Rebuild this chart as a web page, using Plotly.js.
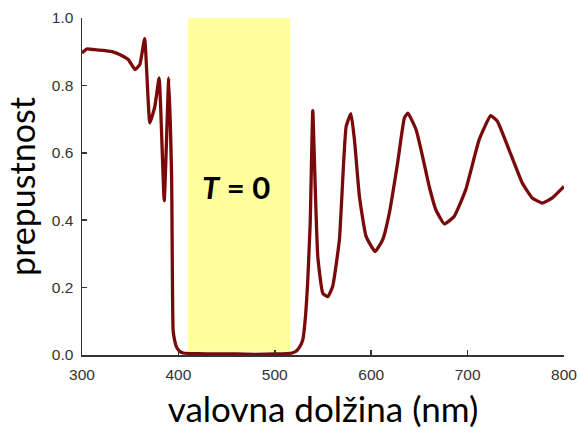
<!DOCTYPE html>
<html>
<head>
<meta charset="utf-8">
<script src="https://cdn.plot.ly/plotly-3.0.1.min.js"></script>
<style>html,body{margin:0;padding:0;background:#fff;}#chart{width:578px;height:429px;}</style>
</head>
<body>
<div id="chart"></div>
<script>
// wavelength (nm)
const wavelength = [300, 305, 313, 322, 331, 339, 348, 355, 360, 365, 370.4, 375.6, 380, 385.3, 390, 393, 394.5, 396, 398, 401, 405, 420, 440, 460, 480, 500, 512, 518, 522, 526, 529, 532, 534, 536.7, 539.4, 542, 544.6, 549.8, 555, 560, 567, 574, 579, 582.6, 587.8, 594.7, 604, 611.9, 618.8, 627.4, 634.4, 638, 646.5, 653.3, 660.2, 667.1, 675.8, 686, 698, 712, 724, 731, 743, 756.8, 767, 777.5, 787.9, 800];
// transmittance
const transmittance = [0.896, 0.908, 0.906, 0.904, 0.900, 0.892, 0.877, 0.847, 0.862, 0.939, 0.689, 0.738, 0.822, 0.458, 0.822, 0.52, 0.074, 0.045, 0.024, 0.012, 0.006, 0.004, 0.003, 0.003, 0.002, 0.003, 0.004, 0.006, 0.011, 0.025, 0.045, 0.12, 0.21, 0.39, 0.725, 0.49, 0.292, 0.183, 0.173, 0.203, 0.342, 0.678, 0.716, 0.639, 0.470, 0.352, 0.307, 0.342, 0.421, 0.570, 0.703, 0.718, 0.669, 0.589, 0.50, 0.431, 0.389, 0.411, 0.490, 0.639, 0.710, 0.693, 0.609, 0.510, 0.466, 0.451, 0.466, 0.500];
// zero-transmission band
const bandX = [410, 516];
const bandY = [0.01, 1.007];
const xTicks = [300, 400, 500, 600, 700, 800];
const yTicks = [0, 0.2, 0.4, 0.6, 0.8, 1.0];
const yTickText = ['0.0', '0.2', '0.4', '0.6', '0.8', '1.0'];

const trace = {
  x: wavelength, y: transmittance, type: 'scatter', mode: 'lines',
  line: {color: '#7a0a0a', width: 3.3, shape: 'spline', smoothing: 0.4}, hoverinfo: 'skip'
};

const layout = {
  width: 578, height: 429,
  margin: {l: 82, r: 14, t: 18, b: 74},
  paper_bgcolor: '#fff', plot_bgcolor: '#fff',
  showlegend: false,
  xaxis: {
    range: [300, 800], tickvals: xTicks, ticks: 'inside', ticklen: 5, tickwidth: 1.5, tickcolor: '#333',
    showline: true, linecolor: '#333', linewidth: 1.5, showgrid: false, zeroline: false,
    tickfont: {family: 'Liberation Sans, Arial, sans-serif', size: 15.5, color: '#333'},
    ticklabelstandoff: 5,
    title: {text: 'valovna dolžina (nm)', font: {family: 'Lato, sans-serif', size: 35, color: '#000'}, standoff: 16}
  },
  yaxis: {
    range: [0, 1.0], tickvals: yTicks, ticktext: yTickText, ticks: 'inside', ticklen: 5, tickwidth: 1.5, tickcolor: '#333',
    showline: true, linecolor: '#333', linewidth: 1.5, showgrid: false, zeroline: false,
    tickfont: {family: 'Liberation Sans, Arial, sans-serif', size: 15.5, color: '#333'},
    ticklabelstandoff: 4,
    title: {text: 'prepustnost', font: {family: 'Lato, sans-serif', size: 34, color: '#000'}, standoff: 6}
  },
  shapes: [{
    type: 'rect', xref: 'x', yref: 'y', x0: bandX[0], x1: bandX[1], y0: bandY[0], y1: bandY[1],
    fillcolor: '#ffff99', opacity: 0.95, line: {width: 0}, layer: 'below'
  }],
  annotations: [{
    xref: 'x', yref: 'y', x: (bandX[0] + bandX[1]) / 2 - 3.5, y: 0.5, showarrow: false,
    text: '<b><i>T</i> = 0</b>',
    font: {family: 'Lato, sans-serif', size: 31, color: '#000'}
  }]
};

Plotly.newPlot('chart', [trace], layout, {displayModeBar: false, staticPlot: true});
</script>
</body>
</html>
